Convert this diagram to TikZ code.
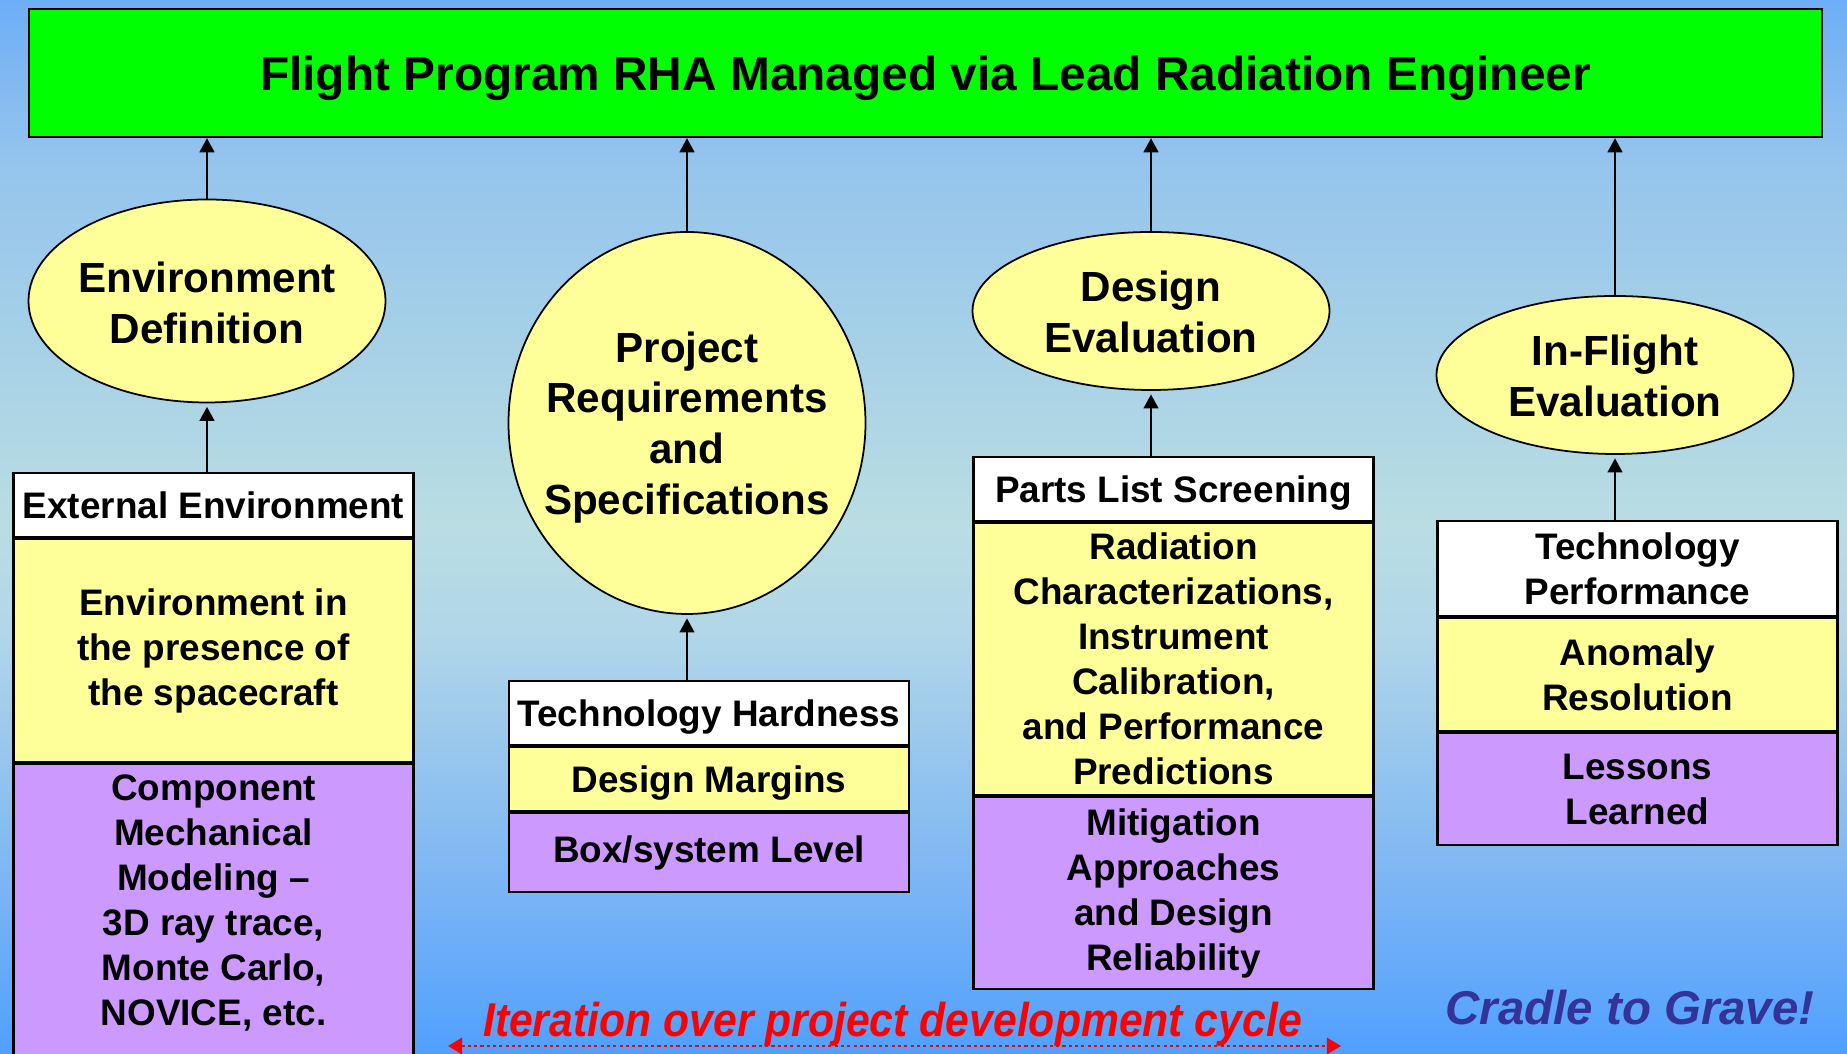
\documentclass[tikz,border=0pt]{standalone}
\usepackage{fontspec}
\setmainfont{Liberation Sans}
\usepackage{tkz-euclide}
\usetikzlibrary{arrows.meta,shapes.geometric,positioning}

\definecolor{barfill}{HTML}{00FF00}
\definecolor{ellfill}{HTML}{FFFF99}
\definecolor{lilac}{HTML}{CC99FF}
\definecolor{navytext}{HTML}{333399}
\definecolor{bgtop}{HTML}{6DAEF6}
\definecolor{bghigh}{HTML}{94C4ED}
\definecolor{bgmid}{HTML}{B9DDE2}
\definecolor{bgmidlow}{HTML}{B1D7E8}
\definecolor{bglow}{HTML}{76B2F5}
\definecolor{bgbot}{HTML}{50A0FF}
\pgfdeclareverticalshading{skyshade}{100bp}{color(0bp)=(bgbot); color(25bp)=(bgbot); color(32bp)=(bglow); color(45bp)=(bgmidlow); color(50bp)=(bgmid); color(67.5bp)=(bghigh); color(75bp)=(bgtop); color(100bp)=(bgtop)}

\begin{document}
\begin{tikzpicture}[
  bar/.style={rectangle, draw, line width=0.7pt, fill=barfill, minimum width=17.93cm, minimum height=1.28cm, text depth=0pt, font=\fontsize{13.6}{16}\selectfont\bfseries},
  bubble/.style={ellipse, draw, line width=0.5pt, fill=ellfill, inner sep=0pt, minimum width=3.57cm},
  bubtext/.style={align=center, inner sep=0pt, font=\fontsize{12}{14.5}\selectfont\bfseries},
  headbox/.style={rectangle, draw, line width=0.6pt, fill=white, minimum width=4cm, inner sep=0pt, align=center, font=\fontsize{10.5}{12.8}\selectfont\bfseries},
  yelbox/.style={headbox, fill=ellfill},
  purbox/.style={headbox, fill=lilac},
  lowtext/.style={text depth=0pt},
  up/.style={-{Triangle[length=4pt,width=4.2pt]}, line width=0.6pt},
  iterline/.style={{Triangle[length=4pt,width=4.6pt]}-{Triangle[length=4pt,width=4.6pt]}, red, line width=0.8pt, dash pattern=on 0.9pt off 0.9pt}
]

% Page and background
\tkzDefPoints{0/0/O, 18.47/10.54/P}
\useasboundingbox (O) rectangle (P);
\clip (O) rectangle (P);
\shade[shading=skyshade] (O) rectangle (P);

% Title bar
\tkzDefPoint(9.255,9.81){T}
\node[bar] (rha) at (T) {Flight Program RHA Managed via Lead Radiation Engineer};

% Ellipses
\tkzDefPoints{2.07/7.53/E, 6.87/6.31/R, 11.51/7.43/D, 16.15/6.79/F}
\node[bubble, minimum height=2.03cm, label={[bubtext, yshift=-0.5pt]center:{Environment\\Definition}}] (env) at (E) {};
\node[bubble, minimum height=3.82cm, label={[bubtext, yshift=-1.3pt]center:{Project\\Requirements\\and\\Specifications}}] (req) at (R) {};
\node[bubble, minimum height=1.58cm, label={[bubtext, yshift=-0.3pt]center:{Design\\Evaluation}}] (des) at (D) {};
\node[bubble, minimum height=1.58cm, label={[bubtext, yshift=-0.3pt]center:{In-Flight\\Evaluation}}] (ifl) at (F) {};

% Stacked boxes, headers first
\tkzDefPoints{2.135/5.49/A, 7.09/3.41/B, 11.735/5.65/C, 16.375/4.855/G}
\node[headbox, minimum height=0.64cm] (ext) at (A) {External Environment};
\node[yelbox, minimum height=2.23cm, below=0pt of ext] (extmid) {Environment in\\the presence of\\the spacecraft};
\node[purbox, minimum height=3.10cm, below=0pt of extmid] (extlow) {};
\node[bubtext, font=\fontsize{10.5}{12.8}\selectfont\bfseries] (exttxt) at (2.135,1.51) {Component\\Mechanical\\Modeling –\\3D ray trace,\\Monte Carlo,\\NOVICE, etc.};

\node[headbox, lowtext, minimum height=0.64cm] (hard) at (B) {Technology Hardness};
\node[yelbox, lowtext, minimum height=0.64cm, below=0pt of hard] (hardmid) {Design Margins};
\node[purbox, minimum height=0.79cm, below=0pt of hardmid] (hardlow) {Box/system Level};

\node[headbox, lowtext, minimum height=0.64cm] (parts) at (C) {Parts List Screening};
\node[yelbox, minimum height=2.72cm, below=0pt of parts] (partsmid) {Radiation\\Characterizations,\\Instrument\\Calibration,\\and Performance\\Predictions};
\node[purbox, minimum height=1.92cm, below=0pt of partsmid] (partslow) {Mitigation\\Approaches\\and Design\\Reliability};

\node[headbox, minimum height=0.95cm] (perf) at (G) {Technology\\Performance};
\node[yelbox, minimum height=1.13cm, below=0pt of perf] (perfmid) {Anomaly\\Resolution};
\node[purbox, minimum height=1.12cm, below=0pt of perfmid] (perflow) {Lessons\\Learned};

% Arrows up to the bar
\foreach \e in {env, req, des, ifl} {
  \draw[up] (\e.north) -- (\e |- rha.south);
}

% Arrows from boxes to ellipses
\foreach \e/\b in {env/ext, req/hard, des/parts, ifl/perf} {
  \draw[up, shorten >=1pt] (\e |- \b.north) -- (\e.south);
}

% Iteration arrow and notes
\coordinate (itl) at (4.48,0.08);
\coordinate (itr) at (13.41,0.08);
\draw[iterline] (itl) -- (itr);
\node[anchor=base, text=red, inner sep=0pt, font=\fontsize{13.5}{16}\selectfont\bfseries\itshape] (iter) at (8.925,0.17) {\scalebox{0.9}[1]{Iteration over project development cycle}};
\node[anchor=base, text=navytext, inner sep=0pt, font=\fontsize{13.5}{16}\selectfont\bfseries\itshape] (grave) at (16.30,0.29) {Cradle to Grave!};

\end{tikzpicture}
\end{document}
